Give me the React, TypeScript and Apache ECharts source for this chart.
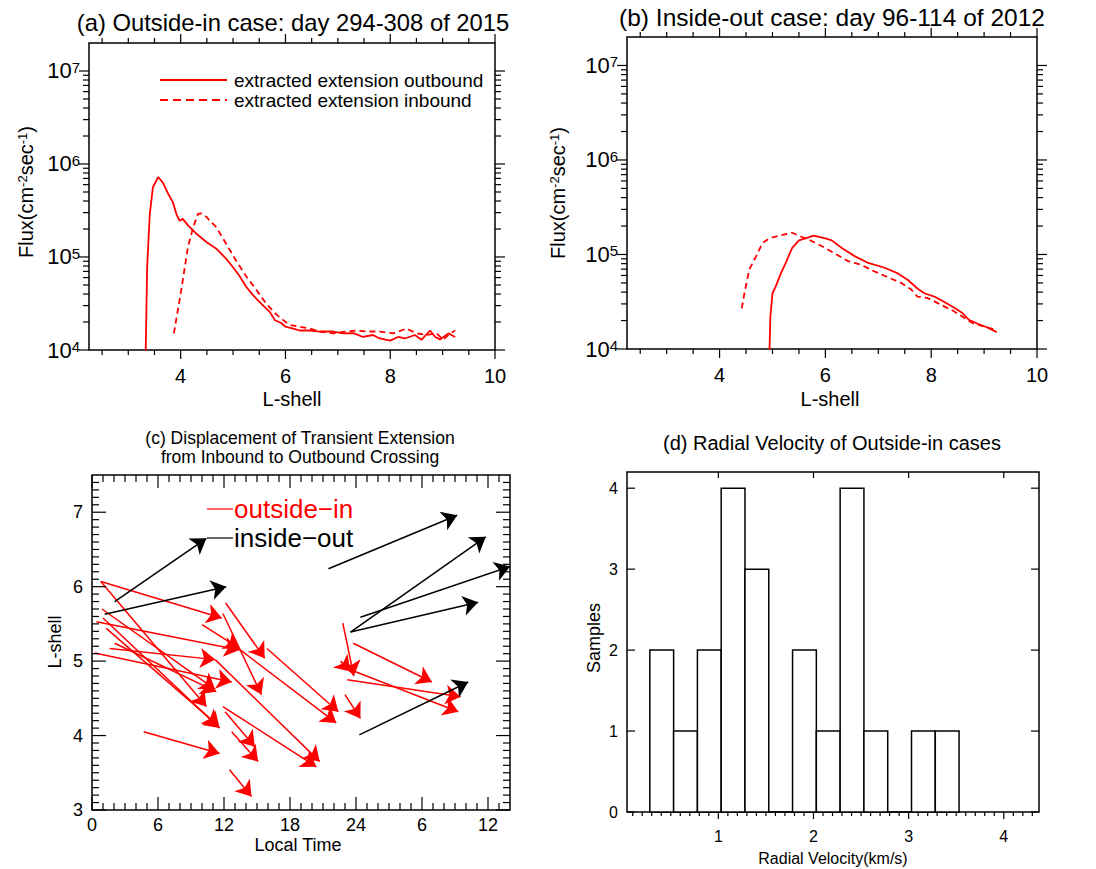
import React, { useEffect, useRef } from 'react';
import * as echarts from 'echarts';

const FONT = '"Liberation Sans", Arial, Helvetica, sans-serif';
const RED = '#ff0000';

// ---------- Panel (a): outside-in case, day 294-308 of 2015 ----------
const aOutboundL = [3.33, 3.36, 3.41, 3.47, 3.57, 3.66, 3.76, 3.85, 3.92, 3.98, 4.04, 4.14, 4.30, 4.49, 4.68, 4.87, 5.00, 5.13, 5.25, 5.38, 5.57, 5.70, 5.80, 5.92, 6.00, 6.15, 6.27, 6.46, 6.66, 6.91, 7.10, 7.30, 7.48, 7.67, 7.80, 8.00, 8.15, 8.28, 8.47, 8.60, 8.76, 8.86, 8.95, 9.11, 9.24];
const aOutboundFlux = [8e3, 7.76e4, 2.88e5, 5.62e5, 7.24e5, 6.31e5, 4.79e5, 3.89e5, 2.88e5, 2.45e5, 2.57e5, 2.19e5, 1.78e5, 1.45e5, 1.23e5, 9.55e4, 7.76e4, 6.17e4, 4.79e4, 3.89e4, 3.02e4, 2.57e4, 2.09e4, 1.95e4, 1.78e4, 1.70e4, 1.62e4, 1.62e4, 1.58e4, 1.58e4, 1.51e4, 1.52e4, 1.38e4, 1.45e4, 1.33e4, 1.26e4, 1.38e4, 1.33e4, 1.45e4, 1.29e4, 1.62e4, 1.38e4, 1.30e4, 1.51e4, 1.38e4];
const aInboundL = [3.87, 4.01, 4.14, 4.24, 4.33, 4.40, 4.49, 4.68, 4.87, 5.06, 5.25, 5.45, 5.64, 5.83, 5.96, 6.08, 6.27, 6.46, 6.66, 6.91, 7.17, 7.36, 7.55, 7.80, 8.06, 8.31, 8.50, 8.70, 8.89, 9.01, 9.14, 9.24];
const aInboundFlux = [1.51e4, 4.37e4, 1.29e5, 2.1e5, 2.9e5, 2.95e5, 2.7e5, 2.09e5, 1.38e5, 9.1e4, 6.2e4, 4.4e4, 3.1e4, 2.4e4, 2.09e4, 1.86e4, 1.78e4, 1.70e4, 1.58e4, 1.51e4, 1.58e4, 1.62e4, 1.58e4, 1.58e4, 1.51e4, 1.70e4, 1.51e4, 1.45e4, 1.51e4, 1.29e4, 1.51e4, 1.62e4];

// ---------- Panel (b): inside-out case, day 96-114 of 2012 ----------
const bOutboundL = [4.94, 4.96, 5.00, 5.06, 5.15, 5.25, 5.37, 5.50, 5.62, 5.78, 6.00, 6.12, 6.31, 6.56, 6.81, 7.12, 7.37, 7.56, 7.74, 7.87, 8.06, 8.24, 8.43, 8.59, 8.71, 8.87, 9.05, 9.24];
const bOutboundFlux = [8e3, 2.19e4, 3.89e4, 4.57e4, 6.17e4, 8.13e4, 1.17e5, 1.41e5, 1.48e5, 1.58e5, 1.48e5, 1.41e5, 1.17e5, 9.55e4, 8.13e4, 7.24e4, 6.31e4, 5.37e4, 4.37e4, 3.89e4, 3.59e4, 3.16e4, 2.75e4, 2.40e4, 2.04e4, 1.86e4, 1.70e4, 1.51e4];
const bInboundL = [4.42, 4.47, 4.56, 4.69, 4.81, 4.94, 5.12, 5.37, 5.56, 5.75, 6.00, 6.18, 6.43, 6.68, 6.93, 7.18, 7.43, 7.62, 7.74, 7.93, 8.18, 8.43, 8.68, 8.80, 8.99, 9.24];
const bInboundFlux = [2.69e4, 3.89e4, 6.92e4, 9.55e4, 1.32e5, 1.48e5, 1.58e5, 1.70e5, 1.53e5, 1.38e5, 1.17e5, 1.02e5, 8.51e4, 7.76e4, 6.61e4, 5.75e4, 5.01e4, 4.27e4, 3.59e4, 3.47e4, 2.95e4, 2.51e4, 2.04e4, 1.86e4, 1.74e4, 1.58e4];

// ---------- Panel (c): displacement arrows [LT start, L start, LT end, L end] ----------
const outsideInArrows = [
  [0.8, 6.07, 11.8, 5.58],
  [0.8, 6.07, 10.4, 4.39],
  [0.4, 5.53, 13.4, 5.15],
  [10.0, 5.49, 13.4, 5.17],
  [1.0, 5.58, 11.6, 4.10],
  [1.3, 5.44, 11.5, 4.13],
  [1.6, 5.17, 11.2, 5.02],
  [0.25, 5.11, 12.7, 4.72],
  [2.06, 5.24, 11.3, 4.59],
  [0.9, 5.70, 11.2, 4.62],
  [12.15, 5.78, 15.7, 5.04],
  [11.9, 5.64, 15.4, 4.55],
  [15.9, 5.17, 22.4, 4.32],
  [13.3, 5.17, 22.2, 4.17],
  [11.2, 5.02, 20.7, 3.65],
  [11.9, 4.39, 20.4, 3.58],
  [12.1, 4.32, 14.8, 3.85],
  [12.7, 4.05, 15.1, 3.65],
  [4.7, 4.05, 11.6, 3.76],
  [12.5, 3.54, 14.5, 3.18],
  [22.8, 5.51, 23.8, 4.80],
  [23.75, 5.24, 30.9, 4.72],
  [23.9, 4.86, 33.3, 4.32],
  [23.2, 4.75, 33.5, 4.52],
  [23.0, 4.55, 24.4, 4.23],
  [22.6, 5.0, 23.5, 4.86],
];
const insideOutArrows = [
  [2.06, 5.80, 10.4, 6.65],
  [1.15, 5.63, 12.2, 6.00],
  [21.5, 6.24, 33.2, 6.96],
  [23.5, 5.39, 35.8, 6.67],
  [24.4, 5.59, 38.0, 6.27],
  [23.5, 5.39, 35.1, 5.79],
  [24.3, 4.01, 34.2, 4.72],
];

// ---------- Panel (d): histogram of radial velocity ----------
const velocityBinEdges = [0.28, 0.53, 0.78, 1.03, 1.28, 1.53, 1.78, 2.03, 2.28, 2.53, 2.78, 3.03, 3.28, 3.53];
const velocityCounts = [2, 1, 2, 4, 3, 0, 2, 1, 4, 1, 0, 1, 1];

// ---------- tick values ----------
const lshellMajor = [4, 6, 8, 10];
const lshellMinor = [2.5, 3, 3.5, 4.5, 5, 5.5, 6.5, 7, 7.5, 8.5, 9, 9.5];
const fluxMajor = [1e4, 1e5, 1e6, 1e7];
const fluxMinor = [1e4, 1e5, 1e6].flatMap((d) => [2, 3, 4, 5, 6, 7, 8, 9].map((m) => m * d));
const ltMajor = [0, 6, 12, 18, 24, 30, 36];
const ltMinor = Array.from({ length: 38 }, (_, i) => i).filter((h) => h % 6 !== 0);
const lcMajor = [3, 4, 5, 6, 7];
const lcMinor = Array.from({ length: 45 }, (_, i) => Math.round((3 + i * 0.1) * 10) / 10).filter((v) => Math.abs(v - Math.round(v)) > 1e-6);
const velMajor = [1, 2, 3, 4];
const velMinor = Array.from({ length: 43 }, (_, i) => Math.round((0.1 + i * 0.1) * 10) / 10).filter((v) => Math.abs(v - Math.round(v)) > 1e-6);
const samplesMajor = [0, 1, 2, 3, 4];

// axis extents
const LX = [2.25, 10];
const FY = [1e4, 2e7];
const CX = [0, 38];
const CY = [3, 7.5];
const DX = [0.04, 4.37];
const DY = [0, 4.2];

function ticks(gi: number, horiz: boolean, at: number, major: number[], minor: number[], majLen: number, minLen: number, sign: number) {
  const data = [...major.map((v) => [v, majLen]), ...minor.map((v) => [v, minLen])].map(([v, len]) => (horiz ? [v, at, len] : [at, v, len]));
  return {
    type: 'custom',
    xAxisIndex: gi,
    yAxisIndex: gi,
    silent: true,
    clip: false,
    z: 4,
    data,
    encode: { x: 0, y: 1 },
    renderItem: (_p: any, api: any) => {
      const p = api.coord([api.value(0), api.value(1)]);
      const len = api.value(2) * sign;
      return {
        type: 'line',
        shape: horiz ? { x1: p[0], y1: p[1], x2: p[0], y2: p[1] + len } : { x1: p[0], y1: p[1], x2: p[0] + len, y2: p[1] },
        style: { stroke: '#000', lineWidth: 1.2 },
      };
    },
  };
}

const supRich = (big: number, small: number) => ({
  a: { fontSize: big, fontFamily: FONT, fill: '#000', color: '#000' },
  s: { fontSize: small, fontFamily: FONT, color: '#000', fill: '#000', verticalAlign: 'top' },
});

// decade labels 10^n on the log axes, placed through the axis scale
function logLabels(gi: number) {
  return {
    type: 'custom',
    xAxisIndex: gi,
    yAxisIndex: gi,
    silent: true,
    clip: false,
    z: 5,
    data: fluxMajor.map((v) => [LX[0], v]),
    encode: { x: 0, y: 1 },
    renderItem: (_p: any, api: any) => {
      const v = api.value(1);
      const p = api.coord([api.value(0), v]);
      return {
        type: 'text',
        x: p[0] - 9,
        y: p[1],
        style: {
          text: `{a|10}{s|${Math.round(Math.log10(v))}}`,
          rich: supRich(22, 15),
          align: 'right',
          verticalAlign: 'middle',
          fontSize: 22,
          fontFamily: FONT,
          fill: '#000',
        },
      };
    },
  };
}

const hideAxisParts = { axisLine: { show: false }, axisTick: { show: false }, splitLine: { show: false } };

function buildOption(): any {
  const gridBase = { show: true, borderColor: '#000', borderWidth: 1.5, backgroundColor: 'transparent', containLabel: false, outerBoundsMode: 'none' };
  const grid = [
    { left: 89, top: 43, width: 406, height: 307 },
    { left: 627, top: 37, width: 410, height: 312 },
    { left: 92, top: 475, width: 418, height: 335 },
    { left: 627, top: 472, width: 412, height: 340 },
  ].map((g) => ({ ...gridBase, ...g }));

  const lblX = (fs: number, margin: number, custom: number[], fmt?: any) => ({
    customValues: custom,
    fontSize: fs,
    fontFamily: FONT,
    color: '#000',
    margin,
    formatter: fmt,
  });

  const xAxis = [
    { gridIndex: 0, type: 'value', min: LX[0], max: LX[1], ...hideAxisParts, axisLabel: lblX(20, 16, lshellMajor) },
    { gridIndex: 1, type: 'value', min: LX[0], max: LX[1], ...hideAxisParts, axisLabel: lblX(20, 16, lshellMajor) },
    { gridIndex: 2, type: 'value', min: CX[0], max: CX[1], ...hideAxisParts, axisLabel: lblX(18, 6, ltMajor, (v: number) => String(v <= 24 ? v : v - 24)) },
    { gridIndex: 3, type: 'value', min: DX[0], max: DX[1], ...hideAxisParts, axisLabel: lblX(16, 16, velMajor) },
  ];
  const yAxis = [
    { gridIndex: 0, type: 'log', logBase: 10, min: FY[0], max: FY[1], ...hideAxisParts, axisLabel: { show: false } },
    { gridIndex: 1, type: 'log', logBase: 10, min: FY[0], max: FY[1], ...hideAxisParts, axisLabel: { show: false } },
    { gridIndex: 2, type: 'value', min: CY[0], max: CY[1], ...hideAxisParts, axisLabel: lblX(18, 9, lcMajor) },
    { gridIndex: 3, type: 'value', min: DY[0], max: DY[1], ...hideAxisParts, axisLabel: lblX(16, 9, samplesMajor) },
  ];

  const series: any[] = [];
  // ticks for (a) and (b): outward
  for (const gi of [0, 1]) {
    series.push(ticks(gi, true, FY[0], lshellMajor, lshellMinor, 9, 5, 1));
    series.push(ticks(gi, true, FY[1], lshellMajor, lshellMinor, 9, 5, -1));
    series.push(ticks(gi, false, LX[0], fluxMajor, fluxMinor, 10, 6, -1));
    series.push(ticks(gi, false, LX[1], fluxMajor, fluxMinor, 10, 6, 1));
    series.push(logLabels(gi));
  }
  // ticks for (c): inward
  series.push(ticks(2, true, CY[0], ltMajor, ltMinor, 13, 7, -1));
  series.push(ticks(2, true, CY[1], ltMajor, ltMinor, 13, 7, 1));
  series.push(ticks(2, false, CX[0], lcMajor, lcMinor, 14, 7, 1));
  series.push(ticks(2, false, CX[1], lcMajor, lcMinor, 14, 7, -1));
  // ticks for (d)
  series.push(ticks(3, true, DY[0], velMajor, velMinor, 7, 4, 1));
  series.push(ticks(3, true, DY[1], velMajor, [], 6, 0, 1));
  series.push(ticks(3, false, DX[0], samplesMajor, [], 8, 0, 1));
  series.push(ticks(3, false, DX[1], samplesMajor, [], 8, 0, -1));

  const curve = (gi: number, xs: number[], ys: number[], dashed: boolean) => ({
    type: 'line',
    xAxisIndex: gi,
    yAxisIndex: gi,
    data: xs.map((x, i) => [x, ys[i]]),
    showSymbol: false,
    symbol: 'none',
    clip: true,
    lineStyle: { color: RED, width: 1.8, type: dashed ? [6, 4] : 'solid' },
    itemStyle: { color: RED },
    z: 3,
  });
  series.push(curve(0, aOutboundL, aOutboundFlux, false));
  series.push(curve(0, aInboundL, aInboundFlux, true));
  series.push(curve(1, bOutboundL, bOutboundFlux, false));
  series.push(curve(1, bInboundL, bInboundFlux, true));

  const arrows = (list: number[][], color: string) => ({
    type: 'lines',
    coordinateSystem: 'cartesian2d',
    xAxisIndex: 2,
    yAxisIndex: 2,
    silent: true,
    symbol: ['none', 'arrow'],
    symbolSize: 15,
    lineStyle: { color, width: 1.5, opacity: 1, curveness: 0 },
    itemStyle: { color },
    data: list.map(([x0, y0, x1, y1]) => ({ coords: [[x0, y0], [x1, y1]] })),
    z: 3,
  });
  series.push(arrows(outsideInArrows, RED));
  series.push(arrows(insideOutArrows, '#000'));

  series.push({
    type: 'custom',
    xAxisIndex: 3,
    yAxisIndex: 3,
    clip: false,
    z: 3,
    data: velocityCounts.map((c, i) => [velocityBinEdges[i], velocityBinEdges[i + 1], c]),
    encode: { x: [0, 1], y: 2 },
    renderItem: (_p: any, api: any) => {
      const a = api.coord([api.value(0), 0]);
      const b = api.coord([api.value(1), api.value(2)]);
      return {
        type: 'rect',
        shape: { x: a[0], y: b[1], width: b[0] - a[0], height: a[1] - b[1] },
        style: { fill: '#fff', stroke: '#000', lineWidth: 1.5 },
      };
    },
  });

  const txt = (text: string, x: number, y: number, fontSize: number, opts: any = {}) => ({
    type: 'text',
    x,
    y,
    rotation: opts.rotation || 0,
    z: 10,
    style: {
      text,
      fontSize,
      fontFamily: FONT,
      fill: opts.fill || '#000',
      align: opts.align || 'center',
      verticalAlign: 'middle',
      rich: opts.rich,
    },
  });
  const fluxName = '{a|Flux(cm}{s|-2}{a|sec}{s|-1}{a|)}';

  const graphic = [
    txt('(a) Outside-in case: day 294-308 of 2015', 293, 22, 23.8),
    txt('(b) Inside-out case: day 96-114 of 2012', 832, 17, 24.5),
    txt('(c) Displacement of Transient Extension', 300, 438, 17.5),
    txt('from Inbound to Outbound Crossing', 300, 457, 17.5),
    txt('(d) Radial Velocity of Outside-in cases', 832, 443, 20),
    txt(fluxName, 26, 192, 20, { rotation: Math.PI / 2, rich: supRich(20, 13) }),
    txt(fluxName, 558, 193, 20, { rotation: Math.PI / 2, rich: supRich(20, 13) }),
    txt('L-shell', 292, 399, 20),
    txt('L-shell', 830, 399, 20),
    txt('L-shell', 55, 642, 18, { rotation: Math.PI / 2 }),
    txt('Local Time', 298, 845, 18),
    txt('Samples', 594, 638, 18, { rotation: Math.PI / 2 }),
    txt('Radial Velocity(km/s)', 833, 858, 16),
    // legend (a)
    { type: 'line', z: 10, shape: { x1: 160, y1: 80, x2: 227, y2: 80 }, style: { stroke: RED, lineWidth: 2 } },
    { type: 'line', z: 10, shape: { x1: 160, y1: 100, x2: 227, y2: 100 }, style: { stroke: RED, lineWidth: 2, lineDash: [8, 5] } },
    txt('extracted extension outbound', 234, 80, 19, { align: 'left' }),
    txt('extracted extension inbound', 234, 100, 19, { align: 'left' }),
    // legend (c)
    { type: 'line', z: 10, shape: { x1: 207, y1: 509, x2: 233, y2: 509 }, style: { stroke: RED, lineWidth: 1.2 } },
    { type: 'line', z: 10, shape: { x1: 207, y1: 538, x2: 233, y2: 538 }, style: { stroke: '#000', lineWidth: 1.2 } },
    txt('outside\u2212in', 234, 509, 26, { align: 'left', fill: RED }),
    txt('inside\u2212out', 234, 538, 26, { align: 'left' }),
  ];

  return { animation: false, backgroundColor: '#fff', grid, xAxis, yAxis, series, graphic };
}

const App = () => {
  const ref = useRef<HTMLDivElement>(null);
  useEffect(() => {
    const chart = echarts.init(ref.current as HTMLDivElement, null, { renderer: 'svg' });
    chart.setOption(buildOption());
    return () => chart.dispose();
  }, []);
  return <div ref={ref} style={{ position: 'fixed', left: 0, top: 0, width: 1096, height: 869, background: '#fff' }} />;
};

export default App;
